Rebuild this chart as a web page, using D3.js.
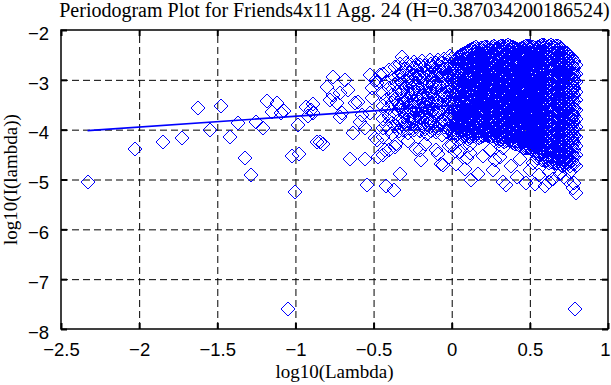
<!DOCTYPE html>
<html>
<head>
<meta charset="utf-8">
<script src="https://d3js.org/d3.v7.min.js"></script>
<style>
  body { margin: 0; background: #fff; }
  svg { display: block; font-family: "Liberation Serif", "Times New Roman", serif; }
  .grid line { stroke: #000; stroke-width: 1; stroke-dasharray: 7,4; }
  .grid path { display: none; }
  .ticks line { stroke: #000; stroke-width: 2; }
  .ticks path { display: none; }
  .tick text { font-size: 18.5px; fill: #000; }
</style>
</head>
<body>
<svg id="chart"></svg>
<script>
// tick labels
var xTicks = [-2.5, -2, -1.5, -1, -0.5, 0, 0.5, 1];
var yTicks = [-8, -7, -6, -5, -4, -3, -2];

// sparse low-frequency periodogram points [log10(lambda), log10(I)]
var lowFreqPts = [
  [-2.325,-5.06],[-2.027,-4.38],[-1.85,-4.24],[-1.724,-4.17],[-1.626,-3.57],[-1.547,-4.01],
  [-1.479,-3.52],[-1.42,-4.15],[-1.37,-3.86],[-1.325,-4.57],[-1.283,-4.90],[-1.253,-3.85],
  [-1.206,-3.97],[-1.18,-3.42],[-1.153,-3.64],[-1.12,-3.46],[-1.095,-3.66],[-1.07,-3.62],
  [-1.047,-7.60],[-1.025,-4.52],[-1.004,-5.25],[-0.983,-3.91],[-0.976,-4.48],[-0.934,-3.55],
  [-0.92,-3.72],[-0.9,-3.6],[-0.887,-3.49],[-0.887,-3.67],[-0.865,-4.24],[-0.844,-4.24],
  [-0.823,-4.28],[-0.801,-3.14],[-0.78,-3.41],[-0.759,-2.94],[-0.759,-3.31],[-0.737,-3.47],
  [-0.716,-3.27],[-0.716,-3.74],[-0.705,-3.67],[-0.684,-3.0],[-0.663,-3.2],[-0.652,-4.58],
  [-0.631,-4.07],[-0.62,-3.47],[-0.599,-3.44],[-0.588,-3.84],[-0.577,-3.71],[-0.556,-3.97],
  [-0.556,-4.58],[-0.545,-5.11],[-0.524,-2.90],[-0.524,-3.67],[-0.513,-3.17],[-0.513,-3.37],
  [-0.492,-4.17],[-0.486,-3.0],[-0.478,-3.07],[-0.473,-4.54],[-0.46,-2.90],[-0.48,-4.21],
  [-0.44,-4.51],[-0.428,-4.41],[-0.418,-5.13],[-0.37,-5.21],[-0.364,-4.34],[-0.333,-4.88],
  [-0.44,-4.14],[-0.4,-4.41],[-0.354,-4.28]
];

// dense region, first pass of columns
var denseX = [-0.44,-0.42,-0.40,-0.38,-0.36,-0.34,-0.32,-0.30,-0.28,-0.26,-0.24,-0.22,-0.20,-0.18,-0.16,-0.14,-0.12,-0.10,-0.08,-0.06,-0.04,-0.02,0.00,
  0.015,0.04,0.06,0.085,0.105,0.13,0.155,0.175,0.2,0.225,0.245,0.27,0.29,0.315,0.335,0.36,0.385,0.405,0.43,0.45,0.475,0.5,0.52,0.545,0.565,0.59,0.61,0.635,0.655,0.68,0.7,0.725,0.745,0.77,0.785,0.798];
var denseY = [
  [-2.88,-3.27,-3.52,-3.79,-3.96],
  [-3.04,-3.41,-3.63,-3.9],
  [-2.81,-3.16,-3.56,-3.73,-3.99],
  [-2.96,-3.31,-3.46,-3.86,-4.08],
  [-2.74,-3.09,-3.39,-3.67,-3.93],
  [-2.91,-3.2,-3.51,-3.81,-4.02],
  [-2.55,-2.86,-3.06,-3.36,-3.61,-3.88],
  [-2.79,-3.14,-3.43,-3.71,-3.97],
  [-2.96,-3.26,-3.54,-3.83,-4.06],
  [-2.71,-3.04,-3.31,-3.62,-3.89],
  [-2.64,-2.91,-3.19,-3.44,-3.76,-4.01],
  [-2.8,-3.11,-3.37,-3.59,-3.86],
  [-2.7,-2.97,-3.26,-3.53,-3.77,-4.03],
  [-2.86,-3.12,-3.41,-3.67,-3.94],
  [-2.8,-3.01,-3.29,-3.57,-3.81,-4.09],
  [-2.6,-2.89,-3.16,-3.46,-3.69,-3.95],
  [-2.75,-3.06,-3.33,-3.6,-3.87],
  [-2.67,-2.94,-3.21,-3.49,-3.74,-4.05],
  [-2.83,-3.1,-3.37,-3.63,-3.9],
  [-2.67,-2.93,-3.22,-3.49,-3.8,-4.1],
  [-2.78,-3.04,-3.31,-3.58,-3.84],
  [-2.62,-2.9,-3.15,-3.44,-3.72,-3.98],
  [-2.57,-2.8,-3.02,-3.29,-3.55,-3.82,-4.07],
  [-2.63,-2.76,-2.93,-3.05,-3.2,-3.31,-3.47,-3.6,-3.73,-3.88,-3.99,-4.14],
  [-2.55,-2.69,-2.84,-2.96,-3.12,-3.24,-3.39,-3.53,-3.64,-3.81,-3.93,-4.08],
  [-2.5,-2.64,-2.77,-2.93,-3.06,-3.19,-3.35,-3.46,-3.61,-3.76,-3.89,-4.03,-4.16],
  [-2.46,-2.59,-2.73,-2.85,-3.01,-3.14,-3.27,-3.43,-3.55,-3.71,-3.83,-3.98,-4.11],
  [-2.43,-2.56,-2.67,-2.84,-2.95,-3.11,-3.23,-3.38,-3.51,-3.64,-3.79,-3.91,-4.06,-4.19],
  [-2.38,-2.51,-2.65,-2.77,-2.93,-3.05,-3.21,-3.32,-3.47,-3.6,-3.75,-3.87,-4.02,-4.13],
  [-2.35,-2.48,-2.61,-2.76,-2.89,-3.04,-3.15,-3.31,-3.43,-3.58,-3.7,-3.86,-3.97,-4.11],
  [-2.41,-2.53,-2.67,-2.8,-2.95,-3.07,-3.23,-3.34,-3.5,-3.62,-3.77,-3.9,-4.05,-4.17],
  [-2.36,-2.5,-2.62,-2.78,-2.9,-3.05,-3.17,-3.32,-3.44,-3.59,-3.72,-3.85,-4.01,-4.12],
  [-2.34,-2.47,-2.61,-2.73,-2.88,-3.0,-3.16,-3.28,-3.43,-3.55,-3.71,-3.83,-3.97,-4.1],
  [-2.38,-2.52,-2.64,-2.8,-2.92,-3.07,-3.19,-3.34,-3.46,-3.61,-3.74,-3.89,-4.02,-4.15],
  [-2.33,-2.46,-2.6,-2.72,-2.88,-3.0,-3.15,-3.27,-3.42,-3.55,-3.69,-3.82,-3.96,-4.09,-4.21],
  [-2.37,-2.49,-2.64,-2.76,-2.91,-3.03,-3.18,-3.3,-3.45,-3.57,-3.72,-3.86,-3.99,-4.13],
  [-2.32,-2.45,-2.59,-2.71,-2.86,-2.99,-3.14,-3.26,-3.41,-3.53,-3.68,-3.81,-3.95,-4.08,-4.2],
  [-2.35,-2.48,-2.62,-2.75,-2.9,-3.02,-3.17,-3.29,-3.44,-3.57,-3.71,-3.84,-3.98,-4.12,-4.25],
  [-2.3,-2.44,-2.57,-2.7,-2.84,-2.97,-3.12,-3.24,-3.39,-3.52,-3.65,-3.8,-3.93,-4.06,-4.19],
  [-2.34,-2.47,-2.61,-2.75,-2.87,-3.02,-3.15,-3.29,-3.42,-3.56,-3.7,-3.83,-3.97,-4.11,-4.24],
  [-2.37,-2.5,-2.65,-2.77,-2.91,-3.04,-3.19,-3.32,-3.46,-3.6,-3.73,-3.88,-4.0,-4.15,-4.28],
  [-2.41,-2.53,-2.67,-2.8,-2.94,-3.08,-3.21,-3.35,-3.49,-3.62,-3.76,-3.9,-4.04,-4.17,-4.3],
  [-2.36,-2.49,-2.63,-2.76,-2.9,-3.03,-3.17,-3.31,-3.44,-3.58,-3.72,-3.85,-3.99,-4.13,-4.27],
  [-2.33,-2.46,-2.6,-2.73,-2.87,-3.01,-3.14,-3.28,-3.41,-3.55,-3.69,-3.82,-3.96,-4.1,-4.23,-4.37],
  [-2.32,-2.45,-2.58,-2.72,-2.86,-2.99,-3.13,-3.27,-3.4,-3.54,-3.67,-3.81,-3.95,-4.08,-4.22,-4.35],
  [-2.35,-2.49,-2.62,-2.76,-2.89,-3.03,-3.16,-3.3,-3.44,-3.58,-3.71,-3.85,-3.98,-4.12,-4.26,-4.4],
  [-2.38,-2.51,-2.65,-2.79,-2.92,-3.06,-3.2,-3.33,-3.47,-3.61,-3.74,-3.88,-4.01,-4.15,-4.29,-4.43,-4.56],
  [-2.32,-2.45,-2.59,-2.73,-2.86,-3.0,-3.14,-3.27,-3.41,-3.55,-3.68,-3.82,-3.95,-4.09,-4.23,-4.36,-4.5],
  [-2.3,-2.43,-2.57,-2.71,-2.84,-2.98,-3.12,-3.25,-3.39,-3.52,-3.66,-3.8,-3.93,-4.07,-4.21,-4.35,-4.48,-4.61],
  [-2.36,-2.5,-2.63,-2.77,-2.9,-3.04,-3.18,-3.32,-3.45,-3.59,-3.72,-3.86,-4.0,-4.14,-4.27,-4.41,-4.55],
  [-2.31,-2.44,-2.58,-2.72,-2.85,-2.99,-3.13,-3.26,-3.4,-3.54,-3.67,-3.81,-3.95,-4.08,-4.22,-4.36,-4.5,-4.64],
  [-2.34,-2.48,-2.61,-2.75,-2.88,-3.02,-3.16,-3.29,-3.43,-3.57,-3.7,-3.84,-3.98,-4.11,-4.25,-4.39,-4.53,-4.67],
  [-2.33,-2.46,-2.6,-2.74,-2.87,-3.01,-3.14,-3.28,-3.42,-3.55,-3.69,-3.83,-3.96,-4.1,-4.24,-4.38,-4.51,-4.65],
  [-2.38,-2.52,-2.66,-2.79,-2.93,-3.07,-3.2,-3.34,-3.48,-3.61,-3.75,-3.89,-4.02,-4.16,-4.3,-4.44,-4.57,-4.7],
  [-2.45,-2.58,-2.72,-2.86,-2.99,-3.13,-3.26,-3.4,-3.54,-3.67,-3.81,-3.95,-4.08,-4.22,-4.36,-4.5,-4.63],
  [-2.5,-2.64,-2.77,-2.91,-3.05,-3.18,-3.32,-3.46,-3.59,-3.73,-3.87,-4.0,-4.14,-4.28,-4.41,-4.55,-4.69],
  [-2.56,-2.7,-2.84,-2.97,-3.11,-3.25,-3.38,-3.52,-3.66,-3.79,-3.93,-4.07,-4.2,-4.34,-4.48,-4.62],
  [-2.62,-2.76,-2.9,-3.03,-3.17,-3.31,-3.44,-3.58,-3.72,-3.85,-3.99,-4.13,-4.26,-4.4,-4.54,-4.68],
  [-2.7,-2.88,-3.05,-3.24,-3.41,-3.6,-3.78,-3.95,-4.14,-4.32,-4.5,-4.72]
];

// dense region, second pass (columns in between the first pass)
var denseX2 = [-0.33,-0.31,-0.29,-0.27,-0.25,-0.23,-0.21,-0.19,-0.17,-0.15,-0.13,-0.11,-0.09,-0.07,-0.05,-0.03,-0.01,
  0.028,0.05,0.072,0.095,0.118,0.142,0.165,0.188,0.212,0.235,0.258,0.28,0.302,0.325,0.348,0.372,0.395,0.418,0.44,0.462,0.488,0.51,0.532,0.555,0.578,0.6,0.622,0.645,0.668,0.69,0.712,0.735,0.758,0.778];
var denseY2 = [
  [-2.68,-3.0,-3.28,-3.55,-3.84],
  [-2.92,-3.2,-3.49,-3.78,-4.0],
  [-2.66,-2.98,-3.34,-3.6,-3.9],
  [-2.84,-3.12,-3.44,-3.72,-3.96],
  [-2.77,-3.0,-3.24,-3.52,-3.82],
  [-2.7,-2.96,-3.28,-3.66,-3.93],
  [-2.88,-3.18,-3.44,-3.7,-4.0],
  [-2.62,-2.92,-3.33,-3.6,-3.86],
  [-2.72,-3.05,-3.22,-3.5,-3.75,-3.98],
  [-2.9,-3.1,-3.38,-3.62,-3.9],
  [-2.68,-2.98,-3.25,-3.54,-3.8,-4.02],
  [-2.82,-3.12,-3.4,-3.66,-3.93],
  [-2.6,-2.88,-3.15,-3.43,-3.69,-3.97],
  [-2.74,-3.02,-3.3,-3.56,-3.84],
  [-2.58,-2.86,-3.12,-3.4,-3.66,-3.95],
  [-2.7,-2.98,-3.24,-3.52,-3.78,-4.04],
  [-2.52,-2.72,-2.95,-3.2,-3.42,-3.68,-3.92],
  [-2.59,-2.72,-2.88,-3.01,-3.16,-3.28,-3.43,-3.57,-3.69,-3.84,-3.96,-4.1],
  [-2.53,-2.66,-2.8,-2.95,-3.09,-3.22,-3.37,-3.5,-3.63,-3.78,-3.91,-4.05],
  [-2.48,-2.61,-2.75,-2.89,-3.03,-3.17,-3.31,-3.45,-3.58,-3.73,-3.86,-4.0,-4.13],
  [-2.44,-2.57,-2.7,-2.86,-2.98,-3.12,-3.26,-3.4,-3.53,-3.68,-3.81,-3.95,-4.08],
  [-2.4,-2.53,-2.66,-2.8,-2.94,-3.08,-3.22,-3.36,-3.49,-3.63,-3.77,-3.9,-4.04,-4.16],
  [-2.37,-2.5,-2.63,-2.78,-2.91,-3.06,-3.18,-3.33,-3.46,-3.6,-3.73,-3.88,-4.0,-4.12],
  [-2.39,-2.51,-2.64,-2.78,-2.92,-3.06,-3.19,-3.33,-3.47,-3.6,-3.74,-3.88,-4.02,-4.14],
  [-2.37,-2.51,-2.64,-2.79,-2.92,-3.06,-3.2,-3.33,-3.47,-3.6,-3.74,-3.88,-4.03,-4.15],
  [-2.35,-2.48,-2.62,-2.75,-2.89,-3.02,-3.16,-3.3,-3.44,-3.57,-3.71,-3.84,-3.99,-4.11],
  [-2.36,-2.49,-2.63,-2.77,-2.9,-3.04,-3.17,-3.31,-3.45,-3.58,-3.72,-3.86,-4.0,-4.13],
  [-2.35,-2.49,-2.62,-2.76,-2.9,-3.03,-3.17,-3.3,-3.44,-3.58,-3.71,-3.85,-3.99,-4.12],
  [-2.35,-2.48,-2.62,-2.74,-2.89,-3.02,-3.16,-3.29,-3.43,-3.56,-3.7,-3.84,-3.97,-4.11],
  [-2.34,-2.47,-2.61,-2.74,-2.88,-3.01,-3.16,-3.28,-3.43,-3.55,-3.7,-3.83,-3.97,-4.1,-4.22],
  [-2.33,-2.47,-2.6,-2.73,-2.88,-3.0,-3.15,-3.28,-3.42,-3.55,-3.69,-3.83,-3.96,-4.1,-4.23],
  [-2.32,-2.46,-2.59,-2.72,-2.87,-3.0,-3.14,-3.27,-3.41,-3.54,-3.68,-3.82,-3.95,-4.09,-4.22],
  [-2.32,-2.45,-2.59,-2.72,-2.85,-2.99,-3.13,-3.26,-3.4,-3.54,-3.68,-3.81,-3.95,-4.08,-4.22],
  [-2.35,-2.49,-2.63,-2.76,-2.89,-3.03,-3.17,-3.3,-3.44,-3.58,-3.71,-3.85,-3.98,-4.13,-4.26],
  [-2.39,-2.52,-2.66,-2.79,-2.93,-3.06,-3.2,-3.34,-3.47,-3.61,-3.75,-3.89,-4.02,-4.16,-4.29],
  [-2.38,-2.51,-2.65,-2.78,-2.92,-3.05,-3.19,-3.33,-3.46,-3.6,-3.74,-3.87,-4.01,-4.15,-4.28],
  [-2.35,-2.48,-2.61,-2.75,-2.89,-3.02,-3.16,-3.29,-3.43,-3.57,-3.7,-3.84,-3.98,-4.11,-4.25,-4.36],
  [-2.33,-2.46,-2.59,-2.73,-2.86,-3.0,-3.14,-3.27,-3.41,-3.54,-3.68,-3.82,-3.95,-4.09,-4.23,-4.36],
  [-2.34,-2.47,-2.6,-2.74,-2.88,-3.01,-3.15,-3.29,-3.42,-3.56,-3.7,-3.83,-3.97,-4.1,-4.24,-4.38],
  [-2.37,-2.5,-2.64,-2.77,-2.91,-3.05,-3.18,-3.32,-3.46,-3.59,-3.73,-3.86,-4.0,-4.14,-4.28,-4.41],
  [-2.35,-2.48,-2.62,-2.76,-2.89,-3.03,-3.17,-3.3,-3.44,-3.58,-3.71,-3.85,-3.99,-4.12,-4.26,-4.4,-4.53],
  [-2.31,-2.44,-2.58,-2.72,-2.85,-2.99,-3.13,-3.26,-3.4,-3.54,-3.67,-3.81,-3.94,-4.08,-4.22,-4.36,-4.49,-4.6],
  [-2.33,-2.47,-2.6,-2.74,-2.88,-3.01,-3.15,-3.29,-3.42,-3.56,-3.69,-3.83,-3.97,-4.11,-4.24,-4.38,-4.52,-4.63],
  [-2.33,-2.47,-2.61,-2.74,-2.88,-3.01,-3.15,-3.29,-3.43,-3.56,-3.7,-3.84,-3.97,-4.11,-4.25,-4.39,-4.52,-4.66],
  [-2.32,-2.46,-2.6,-2.73,-2.87,-3.0,-3.14,-3.28,-3.41,-3.55,-3.69,-3.82,-3.96,-4.1,-4.24,-4.38,-4.51,-4.65],
  [-2.33,-2.47,-2.6,-2.74,-2.88,-3.01,-3.15,-3.29,-3.42,-3.56,-3.7,-3.83,-3.97,-4.11,-4.24,-4.38,-4.52,-4.66],
  [-2.35,-2.49,-2.63,-2.76,-2.9,-3.04,-3.17,-3.31,-3.45,-3.58,-3.72,-3.86,-3.99,-4.13,-4.27,-4.41,-4.54,-4.68],
  [-2.41,-2.55,-2.69,-2.82,-2.96,-3.1,-3.23,-3.37,-3.51,-3.64,-3.78,-3.92,-4.05,-4.19,-4.33,-4.47,-4.6,-4.73],
  [-2.47,-2.61,-2.75,-2.88,-3.02,-3.16,-3.29,-3.43,-3.57,-3.7,-3.84,-3.98,-4.11,-4.25,-4.39,-4.53,-4.66],
  [-2.53,-2.67,-2.81,-2.94,-3.08,-3.22,-3.35,-3.49,-3.63,-3.76,-3.9,-4.04,-4.17,-4.31,-4.45,-4.59,-4.72],
  [-2.6,-2.74,-2.87,-3.01,-3.15,-3.28,-3.42,-3.56,-3.69,-3.83,-3.97,-4.1,-4.24,-4.38,-4.52,-4.66]
];

// dense core, third pass (values sitting between the rows of the first two passes)
var denseX3 = [0.02,0.05,0.08,0.11,0.14,0.17,0.2,0.23,0.26,0.29,0.32,0.35,0.38,0.41,0.44,0.47,0.5,0.53,0.56,0.59,0.62,0.65,0.68,0.71,0.74,0.77];
var denseY3 = [
  [-2.7,-2.84,-3.0,-3.13,-3.27,-3.4,-3.54,-3.67,-3.8,-3.94,-4.06],
  [-2.6,-2.73,-2.87,-3.02,-3.15,-3.29,-3.43,-3.56,-3.7,-3.85,-3.97],
  [-2.52,-2.66,-2.8,-2.93,-3.07,-3.2,-3.35,-3.49,-3.62,-3.76,-3.9,-4.04],
  [-2.49,-2.62,-2.76,-2.9,-3.03,-3.17,-3.3,-3.44,-3.57,-3.71,-3.85,-3.98,-4.12],
  [-2.44,-2.58,-2.71,-2.85,-2.98,-3.12,-3.26,-3.39,-3.53,-3.67,-3.8,-3.94,-4.07],
  [-2.43,-2.57,-2.7,-2.84,-2.98,-3.11,-3.25,-3.39,-3.52,-3.66,-3.8,-3.93,-4.07],
  [-2.42,-2.56,-2.7,-2.83,-2.97,-3.1,-3.24,-3.38,-3.51,-3.65,-3.79,-3.92,-4.06],
  [-2.41,-2.54,-2.68,-2.82,-2.95,-3.09,-3.22,-3.36,-3.5,-3.63,-3.77,-3.91,-4.04],
  [-2.42,-2.55,-2.69,-2.83,-2.96,-3.1,-3.24,-3.37,-3.51,-3.64,-3.78,-3.92,-4.05],
  [-2.4,-2.54,-2.67,-2.81,-2.95,-3.08,-3.22,-3.36,-3.49,-3.63,-3.76,-3.9,-4.04,-4.16],
  [-2.39,-2.52,-2.66,-2.8,-2.93,-3.07,-3.2,-3.34,-3.48,-3.61,-3.75,-3.89,-4.02,-4.15],
  [-2.38,-2.52,-2.65,-2.79,-2.92,-3.06,-3.2,-3.33,-3.47,-3.61,-3.74,-3.88,-4.01,-4.15],
  [-2.4,-2.54,-2.68,-2.81,-2.95,-3.08,-3.22,-3.36,-3.49,-3.63,-3.77,-3.9,-4.04,-4.18],
  [-2.43,-2.57,-2.71,-2.84,-2.98,-3.11,-3.25,-3.39,-3.52,-3.66,-3.8,-3.93,-4.07,-4.21],
  [-2.45,-2.59,-2.72,-2.86,-3.0,-3.13,-3.27,-3.41,-3.54,-3.68,-3.82,-3.95,-4.09,-4.22],
  [-2.41,-2.54,-2.68,-2.81,-2.95,-3.09,-3.22,-3.36,-3.5,-3.63,-3.77,-3.91,-4.04,-4.18,-4.3],
  [-2.39,-2.52,-2.66,-2.79,-2.93,-3.07,-3.2,-3.34,-3.48,-3.61,-3.75,-3.88,-4.02,-4.16,-4.29],
  [-2.42,-2.56,-2.69,-2.83,-2.97,-3.1,-3.24,-3.38,-3.51,-3.65,-3.78,-3.92,-4.06,-4.19,-4.33,-4.47],
  [-2.44,-2.58,-2.72,-2.85,-2.99,-3.13,-3.26,-3.4,-3.53,-3.67,-3.81,-3.95,-4.08,-4.22,-4.36,-4.49],
  [-2.37,-2.5,-2.64,-2.78,-2.91,-3.05,-3.19,-3.32,-3.46,-3.6,-3.73,-3.87,-4.01,-4.14,-4.28,-4.42,-4.55],
  [-2.4,-2.54,-2.67,-2.81,-2.95,-3.08,-3.22,-3.36,-3.49,-3.63,-3.77,-3.9,-4.04,-4.18,-4.31,-4.45,-4.59],
  [-2.41,-2.54,-2.68,-2.81,-2.95,-3.09,-3.22,-3.36,-3.5,-3.63,-3.77,-3.91,-4.04,-4.18,-4.32,-4.45,-4.59],
  [-2.4,-2.53,-2.67,-2.81,-2.94,-3.08,-3.22,-3.35,-3.49,-3.63,-3.76,-3.9,-4.04,-4.17,-4.31,-4.45,-4.58],
  [-2.47,-2.61,-2.74,-2.88,-3.02,-3.15,-3.29,-3.43,-3.56,-3.7,-3.84,-3.97,-4.11,-4.25,-4.38,-4.52,-4.65],
  [-2.54,-2.68,-2.81,-2.95,-3.09,-3.22,-3.36,-3.5,-3.63,-3.77,-3.91,-4.04,-4.18,-4.32,-4.46,-4.59],
  [-2.63,-2.77,-2.91,-3.04,-3.18,-3.32,-3.45,-3.59,-3.73,-3.86,-4.0,-4.14,-4.27,-4.41,-4.55]
];

// scattered points below the dense band
var outlierPts = [
  [0.03,-4.68],[0.05,-4.45],[0.083,-4.78],[0.115,-4.3],[0.12,-4.46],[0.125,-5.01],[0.168,-4.88],
  [0.2,-4.52],[0.243,-4.41],[0.264,-4.81],[0.28,-4.6],[0.31,-4.54],[0.33,-5.05],[0.35,-5.11],
  [0.33,-4.36],[0.38,-4.72],[0.42,-4.95],[0.44,-4.58],[0.477,-5.08],[0.5,-4.8],[0.53,-5.09],
  [0.52,-4.66],[0.56,-4.9],[0.594,-5.13],[0.625,-5.05],[0.62,-4.85],[0.65,-4.98],[0.69,-4.88],
  [0.72,-4.95],[0.74,-5.02],[0.76,-4.85],[0.776,-5.18],[0.797,-5.27],[0.785,-5.08],[0.79,-7.6],
  [0.02,-4.42],[-0.02,-4.33],[-0.055,-4.71],[-0.088,-4.48],[-0.066,-4.68],[-0.098,-4.41],
  [-0.173,-4.28],[-0.194,-4.61],[-0.205,-4.41],[-0.226,-4.38],[-0.28,-4.22],[0.0,-4.3],[0.1,-4.56]
];

// least-squares fit line
var fitX = [-2.33, 0.8];
var fitY = [-4.02, -3.34];

var addColumns = function(pts, xs, ys)
{
    xs.forEach(function(x, i) {
        ys[i].forEach(function(y) { pts.push([x, y]); });
    });
}

var drawChart = function()
{
    var screen = {width:611, height:385};
    var frame = {left:61, right:608, top:30, bottom:329};

    var svg = d3.select("#chart")
        .attr("width", screen.width)
        .attr("height", screen.height);

    var xScale = d3.scaleLinear().domain([-2.5, 1]).range([frame.left, frame.right]);
    var yScale = d3.scaleLinear().domain([-8, -2]).range([frame.bottom, frame.top]);
    var h = frame.bottom - frame.top;
    var w = frame.right - frame.left;

    // dashed grid
    svg.append("g").attr("class", "grid")
        .attr("transform", "translate(0," + frame.bottom + ")")
        .call(d3.axisBottom(xScale).tickValues(xTicks.slice(1, -1)).tickSize(-h).tickFormat(""));
    svg.append("g").attr("class", "grid")
        .attr("transform", "translate(" + frame.left + ",0)")
        .call(d3.axisLeft(yScale).tickValues(yTicks.slice(1, -1)).tickSize(-w).tickFormat(""));

    // points
    var pts = lowFreqPts.slice();
    addColumns(pts, denseX, denseY);
    addColumns(pts, denseX2, denseY2);
    addColumns(pts, denseX3, denseY3);
    outlierPts.forEach(function(p) { pts.push(p); });

    var r = 7;
    var diamond = "M0," + (-r) + "L" + r + ",0L0," + r + "L" + (-r) + ",0Z";
    svg.append("g")
        .selectAll("path")
        .data(pts)
        .enter()
        .append("path")
        .attr("d", diamond)
        .attr("transform", function(d) {
            return "translate(" + Math.round(xScale(d[0])) + "," + Math.round(yScale(d[1])) + ")";
        })
        .attr("fill", "none")
        .attr("stroke", "#0000ff")
        .attr("stroke-width", 1)
        .attr("shape-rendering", "crispEdges");

    // fit line
    var line = d3.line()
        .x(function(d) { return xScale(d); })
        .y(function(d, i) { return yScale(fitY[i]); });
    svg.append("path")
        .datum(fitX)
        .attr("d", line)
        .attr("fill", "none")
        .attr("stroke", "#0000ff")
        .attr("stroke-width", 1.6);

    // frame
    svg.append("rect")
        .attr("x", frame.left).attr("y", frame.top)
        .attr("width", w).attr("height", h)
        .attr("fill", "none").attr("stroke", "#000").attr("stroke-width", 1.5);

    // inward tick marks + labels
    var xAxis = svg.append("g").attr("class", "ticks")
        .attr("transform", "translate(0," + frame.bottom + ")")
        .call(d3.axisBottom(xScale).tickValues(xTicks).tickSize(-6).tickPadding(14).tickFormat(d3.format("")));
    xAxis.selectAll("text").filter(function(d) { return d == 1; }).attr("dx", "-3");
    svg.append("g").attr("class", "ticks")
        .attr("transform", "translate(0," + frame.top + ")")
        .call(d3.axisTop(xScale).tickValues(xTicks).tickSize(-6).tickFormat(""));
    svg.append("g").attr("class", "ticks")
        .attr("transform", "translate(" + frame.left + ",0)")
        .call(d3.axisLeft(yScale).tickValues(yTicks).tickSize(-6).tickPadding(12).tickFormat(d3.format("")))
        .selectAll("text").attr("dy", "0.5em");
    svg.append("g").attr("class", "ticks")
        .attr("transform", "translate(" + frame.right + ",0)")
        .call(d3.axisRight(yScale).tickValues(yTicks).tickSize(-6).tickFormat(""));

    // titles
    svg.append("text")
        .attr("x", (frame.left + frame.right) / 2).attr("y", 17)
        .attr("text-anchor", "middle").style("font-size", "20px")
        .text("Periodogram Plot for Friends4x11 Agg. 24 (H=0.387034200186524)");
    svg.append("text")
        .attr("x", (frame.left + frame.right) / 2).attr("y", 378)
        .attr("text-anchor", "middle").style("font-size", "19px")
        .text("log10(Lambda)");
    svg.append("text")
        .attr("transform", "translate(17," + ((frame.top + frame.bottom) / 2) + ") rotate(-90)")
        .attr("text-anchor", "middle").style("font-size", "19px")
        .text("log10(I(lambda))");
}

drawChart();
</script>
</body>
</html>
